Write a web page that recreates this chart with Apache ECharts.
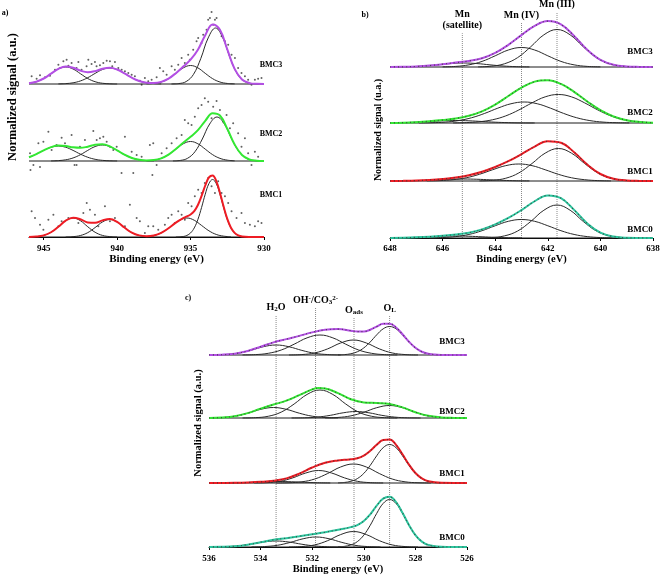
<!DOCTYPE html>
<html><head><meta charset="utf-8">
<script src="https://cdn.jsdelivr.net/npm/echarts/dist/echarts.min.js"></script>
<style>html,body{margin:0;padding:0;background:#fff}#c{width:661px;height:578px}</style>
</head><body><div id="c"></div>
<script>
// ================= DATA =================
// ---- Panel a (930-946 eV) ----
const aRange = [930, 946];
const aTicks = [945, 940, 935, 930];
const aSamples = ['BMC3', 'BMC2', 'BMC1'];

const aBMC3Fit = [[946,0.015],[945.5,0.046],[945,0.11],[944.5,0.207],[944,0.302],[943.5,0.348],[943,0.324],[942.5,0.267],[942,0.236],[941.5,0.258],[941,0.304],[940.5,0.324],[940,0.289],[939.5,0.212],[939,0.126],[938.5,0.061],[938,0.027],[937.5,0.019],[937,0.042],[936.5,0.108],[936,0.217],[935.5,0.348],[935,0.487],[934.5,0.686],[934,0.977],[933.5,1.192],[933,1.084],[932.5,0.691],[932,0.302],[931.5,0.089],[931,0.018],[930.5,0.003],[930,0]];
const aBMC3P1 = [[946,0.015],[945.5,0.046],[945,0.11],[944.5,0.206],[944,0.30],[943.5,0.34],[943,0.30],[942.5,0.206],[942,0.11],[941.5,0.046],[941,0.015],[940.5,0.004],[940,0]];
const aBMC3P2 = [[944,0.002],[943.5,0.008],[943,0.024],[942.5,0.061],[942,0.126],[941.5,0.212],[941,0.289],[940.5,0.32],[940,0.289],[939.5,0.212],[939,0.126],[938.5,0.061],[938,0.024],[937.5,0.008],[937,0.002]];
const aBMC3P3 = [[938,0.003],[937.5,0.011],[937,0.04],[936.5,0.107],[936,0.213],[935.5,0.322],[935,0.37],[934.5,0.322],[934,0.213],[933.5,0.107],[933,0.04],[932.5,0.011],[932,0.003]];
const aBMC3P4 = [[936.3,0.001],[935.8,0.009],[935.3,0.049],[934.8,0.193],[934.3,0.513],[933.8,0.922],[933.3,1.12],[932.8,0.922],[932.3,0.513],[931.8,0.193],[931.3,0.049],[930.8,0.009],[930.3,0.001]];
const aBMC3Raw = [[945.82,0.153],[945.48,0.106],[945.25,0.173],[944.91,0.133],[944.57,0.166],[944.23,0.286],[944.0,0.386],[943.89,0.319],[943.66,0.453],[943.44,0.486],[943.32,0.366],[943.10,0.419],[942.76,0.319],[942.64,0.439],[942.42,0.286],[942.08,0.353],[941.96,0.486],[941.74,0.399],[941.51,0.439],[941.40,0.353],[941.17,0.373],[940.94,0.419],[940.71,0.466],[940.49,0.453],[940.33,0.353],[940.15,0.439],[939.92,0.319],[939.69,0.286],[939.47,0.253],[939.24,0.219],[939.01,0.186],[938.79,0.153],[938.45,0.066],[938.33,-0.014],[938.11,0.119],[937.88,0.053],[937.65,0.086],[937.31,0.133],[937.09,0.319],[936.86,0.253],[936.63,0.186],[936.29,0.353],[936.07,0.286],[935.84,0.386],[935.61,0.519],[935.39,0.419],[935.16,0.586],[935.05,0.486],[934.82,0.686],[934.59,0.853],[934.48,0.919],[934.25,0.819],[934.14,0.986],[933.91,1.086],[933.80,1.286],[933.68,1.319],[933.57,1.439],[933.46,1.186],[933.34,1.286],[933.23,1.319],[933.12,1.119],[932.89,0.953],[932.66,0.853],[932.44,0.786],[932.21,0.586],[931.98,0.519],[931.76,0.319],[931.53,0.219],[931.30,0.153],[931.08,0.086],[930.85,-0.014],[930.62,0.086],[930.40,0.106],[930.17,0.119]];

const aBMC2Fit = [[946,0.075],[945.5,0.137],[945,0.212],[944.5,0.277],[944,0.308],[943.5,0.299],[943,0.273],[942.5,0.263],[942,0.287],[941.5,0.323],[941,0.333],[940.5,0.293],[940,0.213],[939.5,0.126],[939,0.061],[938.5,0.024],[938,0.012],[937.5,0.019],[937,0.053],[936.5,0.128],[936,0.241],[935.5,0.366],[935,0.483],[934.5,0.617],[934,0.802],[933.5,0.953],[933,0.909],[932.5,0.644],[932,0.33],[931.5,0.119],[931,0.031],[930.5,0.006],[930,0.001]];
const aBMC2P1 = [[946,0.075],[945.5,0.137],[945,0.212],[944.5,0.275],[944,0.30],[943.5,0.275],[943,0.212],[942.5,0.137],[942,0.075],[941.5,0.034],[941,0.013],[940.5,0.004],[940,0.001]];
const aBMC2P2 = [[944.5,0.002],[944,0.008],[943.5,0.024],[943,0.061],[942.5,0.126],[942,0.212],[941.5,0.289],[941,0.32],[940.5,0.289],[940,0.212],[939.5,0.126],[939,0.061],[938.5,0.024],[938,0.008],[937.5,0.002]];
const aBMC2P3 = [[938,0.004],[937.5,0.017],[937,0.053],[936.5,0.127],[936,0.237],[935.5,0.344],[935,0.39],[934.5,0.344],[934,0.237],[933.5,0.127],[933,0.053],[932.5,0.017],[932,0.004]];
const aBMC2P4 = [[936.2,0.002],[935.7,0.011],[935.2,0.055],[934.7,0.186],[934.2,0.44],[933.7,0.74],[933.2,0.88],[932.7,0.74],[932.2,0.44],[931.7,0.186],[931.2,0.055],[930.7,0.011],[930.2,0.002]];
const aBMC2Raw = [[945.93,0.153],[945.70,-0.08],[945.36,0.353],[945.02,0.387],[944.68,0.587],[944.46,0.22],[944.12,0.32],[943.78,0.467],[943.55,0.353],[943.10,0.52],[942.76,-0.08],[942.53,0.287],[942.19,0.42],[941.62,0.60],[941.39,0.42],[941.17,0.453],[940.94,0.487],[940.71,0.387],[940.49,0.287],[940.26,0.22],[940.03,0.287],[939.47,0.487],[939.01,0.187],[938.67,0.12],[938.33,0.087],[937.77,0.32],[937.54,0.353],[937.31,-0.08],[936.97,0.153],[936.63,0.253],[936.29,0.353],[935.95,0.453],[935.61,0.52],[935.39,0.82],[935.16,0.753],[934.93,0.72],[934.71,0.887],[934.48,1.053],[934.25,1.12],[934.03,1.253],[933.80,1.187],[933.57,0.853],[933.46,1.087],[933.23,1.20],[933.00,1.02],[932.78,0.787],[932.55,0.92],[932.32,0.653],[932.10,0.753],[931.76,0.553],[931.53,0.287],[931.30,0.453],[931.08,0.153],[930.85,-0.08],[930.62,0.187],[930.40,0.087],[945.9,-0.18],[945.25,-0.12],[942.9,-0.08],[939.7,-0.24],[938.9,-0.24],[937.6,-0.28]];

const aBMC1Fit = [[946,0.002],[945.5,0.008],[945,0.032],[944.5,0.095],[944,0.205],[943.5,0.327],[943,0.387],[942.5,0.356],[942,0.292],[941.5,0.284],[941,0.332],[940.5,0.358],[940,0.302],[939.5,0.189],[939,0.087],[938.5,0.032],[938,0.016],[937.5,0.031],[937,0.082],[936.5,0.174],[936,0.288],[935.5,0.378],[935.25,0.411],[935,0.449],[934.75,0.516],[934.5,0.639],[934.25,0.822],[934,1.03],[933.75,1.192],[933.5,1.232],[933.25,1.119],[933,0.886],[932.75,0.608],[932.5,0.361],[932.25,0.185],[932,0.083],[931.75,0.031],[931.5,0.010],[931,0.001],[930.5,0],[930,0]];
const aBMC1P1 = [[946,0.002],[945.5,0.008],[945,0.032],[944.5,0.095],[944,0.205],[943.5,0.326],[943,0.38],[942.5,0.326],[942,0.205],[941.5,0.095],[941,0.032],[940.5,0.008],[940,0.002]];
const aBMC1P2 = [[943.5,0.001],[943,0.007],[942.5,0.03],[942,0.087],[941.5,0.189],[941,0.30],[940.5,0.35],[940,0.30],[939.5,0.189],[939,0.087],[938.5,0.03],[938,0.007],[937.5,0.001]];
const aBMC1P3 = [[938.25,0.004],[937.75,0.017],[937.25,0.051],[936.75,0.124],[936.25,0.231],[935.75,0.335],[935.25,0.38],[934.75,0.335],[934.25,0.231],[933.75,0.124],[933.25,0.051],[932.75,0.017],[932.25,0.004]];
const aBMC1P4 = [[936,0.001],[935.5,0.010],[935.25,0.031],[935,0.081],[934.75,0.181],[934.5,0.352],[934.25,0.591],[934,0.856],[933.75,1.068],[933.5,1.15],[933.25,1.068],[933,0.856],[932.75,0.591],[932.5,0.352],[932.25,0.181],[932,0.081],[931.75,0.031],[931.5,0.010],[931,0.001]];
const aBMC1Raw = [[945.82,0.513],[945.59,0.38],[945.25,0.246],[945.02,0.146],[944.68,0.346],[944.34,0.446],[944.0,0.213],[943.78,0.313],[943.32,0.38],[942.64,0.279],[942.30,0.479],[942.07,0.679],[941.85,0.546],[941.51,0.446],[941.28,0.213],[940.83,0.613],[940.49,0.313],[940.15,0.38],[939.47,0.213],[939.13,0.646],[938.67,0.38],[938.45,0.313],[938.11,0.079],[937.88,0.213],[937.54,0.213],[937.20,0.146],[936.75,0.246],[936.52,0.38],[936.29,0.446],[936.07,0.279],[935.84,0.513],[935.61,0.446],[935.39,0.346],[935.16,0.679],[934.93,0.613],[934.71,0.813],[934.48,0.946],[934.25,0.879],[934.03,1.079],[933.80,1.179],[933.57,1.013],[933.34,0.879],[933.12,1.113],[932.89,0.879],[932.66,0.813],[932.44,0.679],[932.21,0.513],[931.87,0.38],[931.53,0.479],[931.30,0.279],[930.96,0.246],[930.62,0.213],[930.40,0.313],[930.17,0.279]];

// ---- Panel b: Mn 2p3/2 (638-648 eV) ----
const bRange = [638, 648];
const bTicks = [648, 646, 644, 642, 640, 638];
const bSamples = ['BMC3', 'BMC2', 'BMC1', 'BMC0'];
const bRefEnergies = [645.25, 643.0, 641.65];
const bRefLabels = ['Mn\n(satellite)', 'Mn (IV)', 'Mn (III)'];

const bBMC3Fit = [[648,0.001],[647.5,0.003],[647,0.011],[646.5,0.028],[646,0.057],[645.5,0.088],[645,0.121],[644.5,0.176],[644,0.282],[643.5,0.444],[643,0.638],[642.5,0.822],[642,0.919],[641.5,0.852],[641,0.621],[640.5,0.344],[640,0.143],[639.5,0.044],[639,0.010],[638.5,0.002],[638,0]];
const bBMC3Sat = [[647.7,0.002],[647.2,0.007],[646.7,0.02],[646.2,0.043],[645.7,0.069],[645.2,0.08],[644.7,0.069],[644.2,0.043],[643.7,0.02],[643.2,0.007],[642.7,0.002]];
const bBMC3IV = [[646,0.003],[645.5,0.012],[645,0.043],[644.5,0.112],[644,0.224],[643.5,0.34],[643,0.39],[642.5,0.34],[642,0.224],[641.5,0.112],[641,0.043],[640.5,0.012],[640,0.003]];
const bBMC3III = [[644.65,0.003],[644.15,0.016],[643.65,0.064],[643.15,0.187],[642.65,0.404],[642.15,0.643],[641.65,0.75],[641.15,0.643],[640.65,0.404],[640.15,0.187],[639.65,0.064],[639.15,0.016],[638.65,0.003]];

const bBMC2Fit = [[648,0.002],[647.5,0.007],[647,0.017],[646.5,0.035],[646,0.059],[645.5,0.09],[645,0.145],[644.5,0.234],[644,0.369],[643.5,0.54],[643,0.709],[642.5,0.828],[642,0.856],[641.5,0.781],[641,0.623],[640.5,0.431],[640,0.257],[639.5,0.131],[639,0.057],[638.5,0.021],[638,0.006]];
const bBMC2Sat = [[648,0.002],[647.5,0.007],[647,0.016],[646.5,0.030],[646,0.044],[645.5,0.05],[645,0.044],[644.5,0.030],[644,0.016],[643.5,0.007],[643,0.002],[642.5,0.001]];
const bBMC2IV = [[646.9,0.002],[646.4,0.006],[645.9,0.018],[645.4,0.048],[644.9,0.105],[644.4,0.192],[643.9,0.297],[643.4,0.385],[642.9,0.42],[642.4,0.385],[641.9,0.297],[641.4,0.192],[640.9,0.105],[640.4,0.048],[639.9,0.018],[639.4,0.006],[638.9,0.002]];
const bBMC2III = [[645.6,0.002],[645.1,0.008],[644.6,0.025],[644.1,0.065],[643.6,0.142],[643.1,0.261],[642.6,0.403],[642.1,0.523],[641.6,0.57],[641.1,0.523],[640.6,0.403],[640.1,0.261],[639.6,0.142],[639.1,0.065],[638.6,0.025],[638.1,0.008]];

const bBMC1Fit = [[648,0.001],[647.5,0.003],[647,0.008],[646.5,0.02],[646,0.04],[645.5,0.07],[645,0.116],[644.5,0.186],[644,0.281],[643.5,0.397],[643,0.537],[642.5,0.689],[642,0.795],[641.5,0.764],[641,0.576],[640.5,0.329],[640,0.14],[639.5,0.045],[639,0.010],[638.5,0.002],[638,0]];
const bBMC1Sat = [[647.7,0.002],[647.2,0.005],[646.7,0.013],[646.2,0.024],[645.7,0.035],[645.2,0.04],[644.7,0.035],[644.2,0.024],[643.7,0.013],[643.2,0.005],[642.7,0.002]];
const bBMC1IV = [[646.6,0.002],[646.1,0.008],[645.6,0.026],[645.1,0.065],[644.6,0.134],[644.1,0.225],[643.6,0.307],[643.1,0.34],[642.6,0.307],[642.1,0.225],[641.6,0.134],[641.1,0.065],[640.6,0.026],[640.1,0.008],[639.6,0.002]];
const bBMC1III = [[644.6,0.003],[644.1,0.014],[643.6,0.055],[643.1,0.162],[642.6,0.35],[642.1,0.557],[641.6,0.65],[641.1,0.557],[640.6,0.35],[640.1,0.162],[639.6,0.055],[639.1,0.014],[638.6,0.003]];

const bBMC0Fit = [[648,0.002],[647.5,0.005],[647,0.013],[646.5,0.026],[646,0.044],[645.5,0.068],[645,0.106],[644.5,0.173],[644,0.273],[643.5,0.401],[643,0.559],[642.5,0.735],[642,0.852],[641.5,0.796],[641,0.563],[640.5,0.292],[640,0.109],[639.5,0.029],[639,0.005],[638.5,0.001],[638,0]];
const bBMC0Sat = [[648,0.002],[647.5,0.005],[647,0.013],[646.5,0.024],[646,0.035],[645.5,0.04],[645,0.035],[644.5,0.024],[644,0.013],[643.5,0.005],[643,0.002]];
const bBMC0IV = [[646.5,0.002],[646,0.009],[645.5,0.028],[645,0.071],[644.5,0.146],[644,0.245],[643.5,0.334],[643,0.37],[642.5,0.334],[642,0.245],[641.5,0.146],[641,0.071],[640.5,0.028],[640,0.009],[639.5,0.002]];
const bBMC0III = [[644.65,0.001],[644.15,0.009],[643.65,0.042],[643.15,0.139],[642.65,0.33],[642.15,0.555],[641.65,0.66],[641.15,0.555],[640.65,0.33],[640.15,0.139],[639.65,0.042],[639.15,0.009],[638.65,0.001]];

// ---- Panel c: O 1s (526-536 eV) ----
const cRange = [526, 536];
const cTicks = [536, 534, 532, 530, 528, 526];
const cSamples = ['BMC3', 'BMC2', 'BMC1', 'BMC0'];
const cRefEnergies = [533.4, 531.87, 530.38, 529.0];
const cRefLabels = ['{b|H}{sub|2}{b|O}', '{b|OH}{sup|-}{b|/CO}{sub|3}{sup|2-}', '{b|O}{sub|ads}', '{b|O}{sub|L}'];

const cBMC3Fit = [[536,0.001],[535.5,0.006],[535,0.027],[534.5,0.081],[534,0.166],[533.5,0.252],[533,0.317],[532.5,0.382],[532,0.452],[531.5,0.504],[531,0.518],[530.5,0.486],[530.25,0.468],[530,0.469],[529.75,0.505],[529.5,0.569],[529.25,0.626],[529,0.627],[528.75,0.552],[528.5,0.415],[528.25,0.266],[528,0.144],[527.75,0.065],[527.5,0.025],[527.25,0.008],[527,0.002],[526.5,0],[526,0]];
const cBMC3H2O = [[535.9,0.002],[535.4,0.009],[534.9,0.034],[534.4,0.092],[533.9,0.165],[533.4,0.2],[532.9,0.165],[532.4,0.092],[531.9,0.034],[531.4,0.009],[530.9,0.002]];
const cBMC3OH = [[534.7,0.002],[534.2,0.008],[533.7,0.034],[533.2,0.10],[532.7,0.216],[532.2,0.343],[531.7,0.4],[531.2,0.343],[530.7,0.216],[530.2,0.10],[529.7,0.034],[529.2,0.008],[528.7,0.002]];
const cBMC3Oads = [[532.9,0.001],[532.4,0.009],[531.9,0.041],[531.4,0.123],[530.9,0.24],[530.4,0.3],[529.9,0.24],[529.4,0.123],[528.9,0.041],[528.4,0.009],[527.9,0.001]];
const cBMC3OL = [[531,0.002],[530.75,0.008],[530.5,0.025],[530.25,0.065],[530,0.142],[529.75,0.261],[529.5,0.403],[529.25,0.523],[529,0.57],[528.75,0.523],[528.5,0.403],[528.25,0.261],[528,0.142],[527.75,0.065],[527.5,0.025],[527.25,0.008],[527,0.002]];

const cBMC2Fit = [[536,0.002],[535.5,0.009],[535,0.036],[534.5,0.098],[534,0.188],[533.5,0.269],[533,0.347],[532.5,0.458],[532,0.572],[531.75,0.60],[531.5,0.592],[531,0.496],[530.5,0.375],[530,0.311],[529.5,0.30],[529,0.282],[528.5,0.213],[528,0.116],[527.5,0.043],[527,0.011],[526.5,0.002],[526,0]];
const cBMC2H2O = [[536,0.002],[535.5,0.009],[535,0.036],[534.5,0.096],[534,0.173],[533.5,0.21],[533,0.173],[532.5,0.096],[532,0.036],[531.5,0.009],[531,0.002]];
const cBMC2OH = [[534.7,0.001],[534.2,0.007],[533.7,0.035],[533.2,0.118],[532.7,0.28],[532.2,0.471],[531.7,0.56],[531.2,0.471],[530.7,0.28],[530.2,0.118],[529.7,0.035],[529.2,0.007],[528.7,0.001]];
const cBMC2Oads = [[532.8,0.001],[532.3,0.004],[531.8,0.018],[531.3,0.053],[530.8,0.104],[530.3,0.13],[529.8,0.104],[529.3,0.053],[528.8,0.018],[528.3,0.004],[527.8,0.001]];
const cBMC2OL = [[531.5,0.002],[531,0.011],[530.5,0.043],[530,0.115],[529.5,0.206],[529,0.25],[528.5,0.206],[528,0.115],[527.5,0.043],[527,0.011],[526.5,0.002]];

const cBMC1Fit = [[536,0],[535.5,0.001],[535,0.003],[534.5,0.010],[534,0.023],[533.5,0.046],[533,0.093],[532.5,0.188],[532,0.31],[531.5,0.404],[531,0.452],[530.75,0.463],[530.5,0.473],[530.25,0.496],[530,0.549],[529.75,0.643],[529.5,0.764],[529.25,0.859],[529,0.868],[528.75,0.764],[528.5,0.575],[528.25,0.369],[528,0.199],[527.75,0.091],[527.5,0.035],[527,0.003],[526.5,0],[526,0]];
const cBMC1H2O = [[535.3,0.001],[534.8,0.005],[534.3,0.014],[533.8,0.025],[533.3,0.03],[532.8,0.025],[532.3,0.014],[531.8,0.005],[531.3,0.001]];
const cBMC1OH = [[534.25,0.001],[533.75,0.007],[533.25,0.034],[532.75,0.103],[532.25,0.20],[531.75,0.25],[531.25,0.20],[530.75,0.103],[530.25,0.034],[529.75,0.007],[529.25,0.001]];
const cBMC1Oads = [[533.4,0.001],[532.9,0.005],[532.4,0.024],[531.9,0.08],[531.4,0.19],[530.9,0.32],[530.4,0.38],[529.9,0.32],[529.4,0.19],[528.9,0.08],[528.4,0.024],[527.9,0.005],[527.4,0.001]];
const cBMC1OL = [[531,0.003],[530.75,0.011],[530.5,0.034],[530.25,0.088],[530,0.192],[529.75,0.353],[529.5,0.544],[529.25,0.706],[529,0.77],[528.75,0.706],[528.5,0.544],[528.25,0.353],[528,0.192],[527.75,0.088],[527.5,0.034],[527.25,0.011],[527,0.003]];

const cBMC0Fit = [[536,0.001],[535.5,0.004],[535,0.016],[534.5,0.047],[534,0.096],[533.5,0.143],[533,0.177],[532.5,0.214],[532,0.255],[531.5,0.295],[531,0.344],[530.5,0.397],[530.25,0.439],[530,0.52],[529.75,0.654],[529.5,0.826],[529.25,0.967],[529,1.004],[528.75,0.899],[528.5,0.684],[528.25,0.44],[528,0.239],[527.75,0.108],[527.5,0.042],[527,0.004],[526.5,0],[526,0]];
const cBMC0H2O = [[535.9,0.001],[535.4,0.005],[534.9,0.021],[534.4,0.055],[533.9,0.099],[533.4,0.12],[532.9,0.099],[532.4,0.055],[531.9,0.021],[531.4,0.005],[530.9,0.001]];
const cBMC0OH = [[534.35,0.002],[533.85,0.009],[533.35,0.034],[532.85,0.092],[532.35,0.165],[531.85,0.2],[531.35,0.165],[530.85,0.092],[530.35,0.034],[529.85,0.009],[529.35,0.002]];
const cBMC0Oads = [[532.9,0.001],[532.4,0.009],[531.9,0.042],[531.4,0.127],[530.9,0.248],[530.4,0.31],[529.9,0.248],[529.4,0.127],[528.9,0.042],[528.4,0.009],[527.9,0.001]];
const cBMC0OL = [[531,0.004],[530.75,0.013],[530.5,0.042],[530.25,0.108],[530,0.237],[529.75,0.435],[529.5,0.672],[529.25,0.871],[529,0.95],[528.75,0.871],[528.5,0.672],[528.25,0.435],[528,0.237],[527.75,0.108],[527.5,0.042],[527.25,0.013],[527,0.004]];

// ================= STYLE / LAYOUT =================
const FONT = '"Liberation Serif","Times New Roman",serif';
const sampleColors = {BMC3: '#b34fe4', BMC2: '#33e833', BMC1: '#ee1c24', BMC0: '#2cc69e'};
const Y_MIN = -0.4, Y_MAX = 1.6, GRID_H = 100;           // 50 px per unit
const ZERO_OFFSET = -GRID_H * (0 - Y_MIN) / (Y_MAX - Y_MIN); // move bottom axis up to y = 0

const panels = [
  { range: aRange, ticks: aTicks, step: 5, left: 29, width: 235, labelMargin: 7, nameGap: 15, nameSize: 11, namePad: [0,0,0,20],
    bases: [84, 161, 237], labelX: 271, labelYs: [65, 134, 195], labelSize: 8, rawLine: false,
    specs: [
      {name: aSamples[0], fit: aBMC3Fit, comps: [aBMC3P1, aBMC3P2, aBMC3P3, aBMC3P4], raw: aBMC3Raw},
      {name: aSamples[1], fit: aBMC2Fit, comps: [aBMC2P1, aBMC2P2, aBMC2P3, aBMC2P4], raw: aBMC2Raw},
      {name: aSamples[2], fit: aBMC1Fit, comps: [aBMC1P1, aBMC1P2, aBMC1P3, aBMC1P4], raw: aBMC1Raw}
    ] },
  { range: bRange, ticks: bTicks, step: 2, left: 390, width: 263, labelMargin: 6, nameGap: 13, nameSize: 10.5, namePad: 0,
    bases: [67, 123, 181, 238], labelX: 640, labelYs: [52, 113, 172, 230], labelSize: 9, rawLine: true,
    refE: bRefEnergies, refL: bRefLabels, refTop: 0, refTops: [0.86, 0.905, 0.95],
    specs: [
      {name: bSamples[0], fit: bBMC3Fit, comps: [bBMC3Sat, bBMC3IV, bBMC3III]},
      {name: bSamples[1], fit: bBMC2Fit, comps: [bBMC2Sat, bBMC2IV, bBMC2III]},
      {name: bSamples[2], fit: bBMC1Fit, comps: [bBMC1Sat, bBMC1IV, bBMC1III]},
      {name: bSamples[3], fit: bBMC0Fit, comps: [bBMC0Sat, bBMC0IV, bBMC0III]}
    ] },
  { range: cRange, ticks: cTicks, step: 2, left: 209, width: 258, labelMargin: 7, nameGap: 17, nameSize: 10.5, namePad: 0,
    bases: [355, 418, 483, 547], labelX: 452, labelYs: [342, 412, 474, 538], labelSize: 9, rawLine: true,
    refE: cRefEnergies, refL: cRefLabels, refTop: 280, refTops: [0.869, 0.895, 0.858, 0.865],
    specs: [
      {name: cSamples[0], fit: cBMC3Fit, comps: [cBMC3H2O, cBMC3OH, cBMC3Oads, cBMC3OL]},
      {name: cSamples[1], fit: cBMC2Fit, comps: [cBMC2H2O, cBMC2OH, cBMC2Oads, cBMC2OL]},
      {name: cSamples[2], fit: cBMC1Fit, comps: [cBMC1H2O, cBMC1OH, cBMC1Oads, cBMC1OL]},
      {name: cSamples[3], fit: cBMC0Fit, comps: [cBMC0H2O, cBMC0OH, cBMC0Oads, cBMC0OL]}
    ] }
];

const grids = [], xAxes = [], yAxes = [], series = [], graphics = [];
function txt(text, x, y, size, rot) {
  graphics.push({ type: 'text', x: x, y: y, rotation: rot || 0, z: 100,
    style: { text: text, fill: '#000', font: 'bold ' + size + 'px ' + FONT,
      textAlign: 'center', textVerticalAlign: 'middle', align: 'center', verticalAlign: 'middle' } });
}
const richStyle = {
  b: { fontFamily: FONT, fontWeight: 'bold', fontSize: 10, color: '#000' },
  sub: { fontFamily: FONT, fontWeight: 'bold', fontSize: 7, color: '#000', verticalAlign: 'bottom', lineHeight: 8 },
  sup: { fontFamily: FONT, fontWeight: 'bold', fontSize: 7, color: '#000', verticalAlign: 'top', lineHeight: 8 }
};

panels.forEach(p => {
  const axisY = p.bases[p.bases.length - 1];
  if (p.refE) {
    const gi = grids.length;
    grids.push({ left: p.left, width: p.width, top: p.refTop, height: axisY - p.refTop, outerBoundsMode: 'none' });
    xAxes.push({ gridIndex: gi, type: 'value', min: p.range[0], max: p.range[1], inverse: true, show: false });
    yAxes.push({ gridIndex: gi, type: 'value', min: 0, max: 1, show: false });
    p.refE.forEach((e, k) => {
      series.push({ type: 'line', xAxisIndex: gi, yAxisIndex: gi, data: [[e, 0], [e, p.refTops[k]]], symbol: 'none', silent: true, z: 1,
        lineStyle: { type: 'dotted', color: '#8a8a8a', width: 1 },
        markPoint: { symbol: 'circle', symbolSize: 0, silent: true,
          data: [{ coord: [e, p.refTops[k]] }],
          label: { show: true, position: 'top', distance: 2, formatter: p.refL[k], fontFamily: FONT, fontWeight: 'bold', fontSize: 10, color: '#000', lineHeight: 11, rich: richStyle } } });
    });
  }
  p.specs.forEach((s, i) => {
    const gi = grids.length;
    const base = p.bases[i];
    const bottom = i === p.specs.length - 1;
    grids.push({ left: p.left, width: p.width, top: base - GRID_H * Y_MAX / (Y_MAX - Y_MIN), height: GRID_H, outerBoundsMode: 'none' });
    xAxes.push({ gridIndex: gi, type: 'value', min: p.range[0], max: p.range[1], interval: p.step, inverse: true, show: bottom,
      offset: ZERO_OFFSET,
      axisLine: { show: true, onZero: false, lineStyle: { color: '#000', width: 1 } },
      axisTick: { show: true, length: 3, customValues: p.ticks, lineStyle: { color: '#000' } },
      axisLabel: { show: true, margin: p.labelMargin, customValues: p.ticks, fontFamily: FONT, fontWeight: 'bold', fontSize: 9, color: '#000' },
      splitLine: { show: false },
      name: bottom ? 'Binding energy (eV)' : '', nameLocation: 'middle', nameGap: p.nameGap,
      nameTextStyle: { fontFamily: FONT, fontWeight: 'bold', fontSize: p.nameSize, color: '#000', padding: p.namePad } });
    yAxes.push({ gridIndex: gi, type: 'value', min: Y_MIN, max: Y_MAX, show: false });
    if (s.raw) series.push({ type: 'scatter', xAxisIndex: gi, yAxisIndex: gi, data: s.raw, symbolSize: 2, clip: false, silent: true, z: 2,
      itemStyle: { color: '#3a3a3a' } });
    series.push({ type: 'line', xAxisIndex: gi, yAxisIndex: gi, data: [[p.range[0], 0], [p.range[1], 0]], symbol: 'none', silent: true, z: 3,
      lineStyle: { color: '#1a1a1a', width: 1 } });
    s.comps.forEach(c => series.push({ type: 'line', xAxisIndex: gi, yAxisIndex: gi, data: c, smooth: 0.4, symbol: 'none', silent: true, z: 3, clip: false,
      lineStyle: { color: '#2a2a2a', width: 1 } }));
    series.push({ type: 'line', xAxisIndex: gi, yAxisIndex: gi, data: s.fit, smooth: 0.4, symbol: 'none', silent: true, z: 4, clip: false,
      lineStyle: { color: sampleColors[s.name], width: 2 } });
    if (p.rawLine) series.push({ type: 'line', xAxisIndex: gi, yAxisIndex: gi, data: s.fit, smooth: 0.4, symbol: 'none', silent: true, z: 5, clip: false,
      lineStyle: { color: '#333', width: 1.2, type: [1, 3], opacity: 0.8 } });
    txt(s.name, p.labelX, p.labelYs[i], p.labelSize);
  });
});

txt('Normalized signal (a.u.)', 13, 97, 12.5, Math.PI / 2);
txt('Normalized signal (u.a.)', 378, 130, 10, Math.PI / 2);
txt('Normalized signal (a.u.)', 198, 423, 10.5, Math.PI / 2);
txt('a)', 5, 13, 8);
txt('b)', 365, 15, 8);
txt('c)', 188, 298, 8);

const chart = echarts.init(document.getElementById('c'), null, { renderer: 'canvas' });
chart.setOption({ animation: false, backgroundColor: '#fff', grid: grids, xAxis: xAxes, yAxis: yAxes, series: series, graphic: graphics });
</script></body></html>
